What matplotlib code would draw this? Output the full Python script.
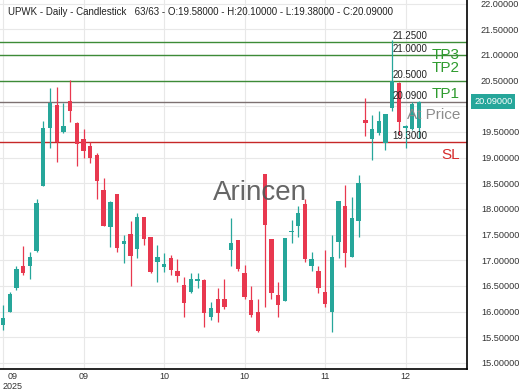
import matplotlib
matplotlib.use("Agg")
import matplotlib.pyplot as plt
import matplotlib.transforms as mtransforms
import numpy as np

plt.rcParams['font.family'] = ['Liberation Sans', 'DejaVu Sans']

# daily candles, UPWK (63 bars)
opens = [15.74, 16.00, 16.46, 16.89, 16.88, 17.18, 18.45, 19.58, 20.03, 19.49,
         20.10, 19.67, 19.36, 19.23, 19.05, 18.36, 17.65, 18.29, 17.32, 17.51,
         17.22, 17.84, 17.45, 16.97, 16.86, 17.04, 16.79, 16.51, 16.38, 16.60,
         16.62, 15.89, 16.24, 16.24, 17.21, 17.40, 16.75, 16.23, 16.00, 18.68,
         17.41, 16.32, 16.21, 17.55, 17.67, 18.10, 16.89, 16.79, 16.38, 16.00,
         17.35, 18.06, 17.07, 17.77, 19.73, 19.36, 19.47, 19.28, 19.96, 20.45,
         19.58, 19.55, 19.58]
highs = [16.13, 16.39, 16.88, 17.27, 17.17, 18.19, 19.72, 20.35, 20.38, 20.06,
         20.51, 19.69, 19.55, 19.31, 19.09, 18.60, 18.15, 18.30, 17.49, 17.77,
         17.92, 17.84, 17.45, 17.30, 17.15, 17.10, 17.02, 16.68, 16.75, 16.75,
         16.63, 16.19, 16.46, 16.63, 17.82, 17.40, 16.91, 16.49, 16.24, 18.68,
         17.41, 16.58, 17.43, 17.79, 18.05, 18.19, 17.17, 16.88, 17.20, 17.49,
         18.16, 18.47, 18.24, 18.66, 20.16, 19.83, 19.90, 19.84, 21.30, 20.48,
         19.64, 20.08, 20.10]
lows = [15.64, 15.99, 16.42, 16.71, 16.64, 17.17, 18.45, 19.18, 18.92, 19.47,
        19.70, 18.84, 18.99, 18.89, 18.19, 17.67, 17.25, 17.17, 16.94, 16.49,
        17.04, 17.30, 16.75, 16.58, 16.78, 16.71, 16.58, 15.90, 16.36, 16.46,
        15.70, 15.84, 15.79, 16.06, 16.88, 16.80, 16.24, 15.89, 15.61, 16.10,
        16.24, 15.89, 16.21, 17.34, 17.46, 16.97, 16.79, 16.36, 16.10, 15.61,
        17.04, 16.86, 17.07, 17.46, 19.42, 18.96, 19.44, 19.14, 19.90, 19.45,
        19.18, 19.54, 19.38]
closes = [15.88, 16.34, 16.83, 16.75, 17.06, 18.12, 19.57, 20.06, 19.30, 19.62,
          19.90, 19.27, 19.12, 18.99, 18.55, 17.67, 18.14, 17.23, 17.38, 17.08,
          17.84, 17.41, 16.78, 17.06, 16.93, 16.81, 16.70, 16.16, 16.63, 16.63,
          15.98, 16.08, 15.98, 16.09, 17.34, 16.84, 16.29, 15.94, 15.63, 17.69,
          16.37, 16.12, 17.43, 17.58, 17.92, 17.02, 17.02, 16.47, 16.15, 17.06,
          18.16, 17.14, 17.83, 18.51, 19.67, 19.55, 19.72, 19.84, 20.50, 19.70,
          19.60, 20.05, 20.09]

# x axis labels (every 12th bar)
tick_idx = [0, 12, 24, 36, 48, 60]
tick_lbl = ['09\n2025', '09', '10', '10', '11', '12']

# price axis
price_ticks = [15.0, 15.5, 16.0, 16.5, 17.0, 17.5, 18.0, 18.5, 19.0, 19.5,
               20.0, 20.5, 21.0, 21.5, 22.0]

# trade levels
level_vals = [21.25, 21.0, 20.5, 20.09, 19.3]
level_names = ['TP3', 'TP2', 'TP1', 'At Price', 'SL']
level_cols = ['#3d8b37', '#3d8b37', '#3d8b37', '#7d7171', '#c62828']
name_cols = ['#2e9b2e', '#2e9b2e', '#2e9b2e', '#8c8c8c', '#d62a2a']

last_price = 20.09
up_col = '#26a69a'
dn_col = '#e8384f'

fig = plt.figure(figsize=(5.2, 3.9), dpi=100)
ax = fig.add_axes([0, 21 / 390, 467 / 520, 369 / 390])

o = np.array(opens)
c = np.array(closes)
x = np.arange(len(o))
cols = [up_col if cc >= oo else dn_col for oo, cc in zip(o, c)]
ax.vlines(x, lows, highs, colors=cols, linewidth=0.9, zorder=3)
body_h = np.maximum(np.abs(c - o), 0.03)
ax.bar(x, body_h, bottom=np.minimum(o, c), width=0.65, color=cols, zorder=4)

for v, name, lc, nc in zip(level_vals, level_names, level_cols, name_cols):
    ax.axhline(v, color=lc, linewidth=1.0, zorder=2)
    ax.text(58.0, v + 0.02, '%.4f' % v, fontsize=7, color='#222222',
            ha='left', va='bottom', zorder=5)
    ax.text(68.1, v - 0.12, name, fontsize=11, color=nc,
            ha='right', va='top', zorder=5)

ax.set_xlim(-0.45, 69.15)
ax.set_ylim(14.883, 22.07)

ax.yaxis.tick_right()
ax.set_yticks(price_ticks)
ax.set_yticklabels(['' if t == 20.0 else '%.5f' % t for t in price_ticks])
ax.tick_params(axis='y', length=0, pad=10, labelsize=6.6, labelcolor='#333333')
ax.set_xticks(tick_idx)
labels = ax.set_xticklabels(tick_lbl)
labels[0].set_horizontalalignment('left')
labels[0].set_multialignment('center')
ax.tick_params(axis='x', length=0, pad=2, labelsize=6.5, labelcolor='#333333')

ax.grid(True, color='#e8e8e8', linewidth=0.8)
ax.set_axisbelow(True)
for s in ['left', 'top']:
    ax.spines[s].set_visible(False)
for s in ['right', 'bottom']:
    ax.spines[s].set_color('black')
    ax.spines[s].set_linewidth(1.2)

trans = mtransforms.blended_transform_factory(ax.transAxes, ax.transData)
ax.text(1.015, last_price, '%.5f' % last_price, transform=trans, fontsize=6.6,
        color='white', ha='left', va='center', zorder=6,
        bbox=dict(boxstyle='square,pad=0.3', fc=up_col, ec='none'))

ax.text(0.017, 0.982, 'UPWK - Daily - Candlestick   63/63 - O:19.58000 - H:20.10000'
        ' - L:19.38000 - C:20.09000', transform=ax.transAxes, fontsize=7,
        color='#222222', ha='left', va='top', zorder=6)

fig.text(0.5, 0.505, 'Arincen', fontsize=20, color='#555555', alpha=0.9,
         ha='center', va='center', zorder=6)

fig.savefig('out.png', dpi=100)
